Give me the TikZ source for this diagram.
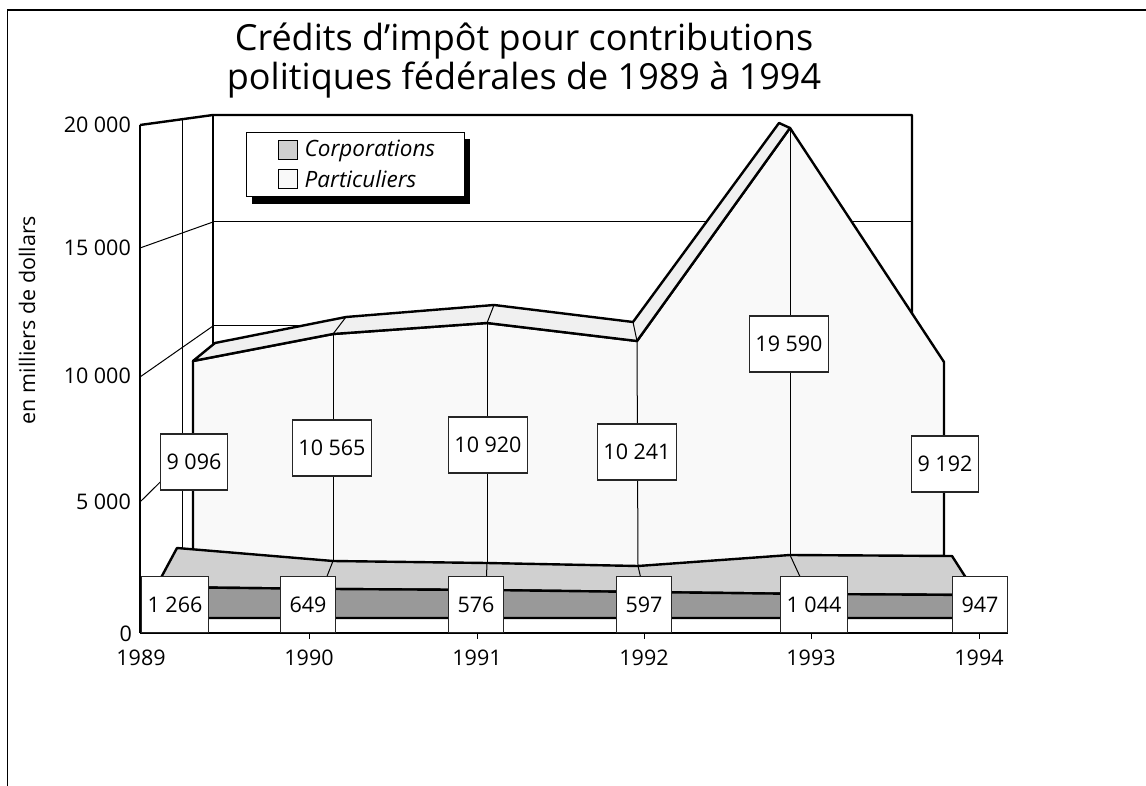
\documentclass[tikz,border=0pt]{standalone}
\usepackage{fontspec}
\setmainfont{Open Sans}
\usetikzlibrary{positioning}

\definecolor{partfront}{HTML}{F9F9F9}
\definecolor{parttop}{HTML}{F0F0F0}
\definecolor{corptop}{HTML}{D0D0D0}
\definecolor{corpfront}{HTML}{999999}

\tikzset{
  edge/.style={line width=2.4pt, line join=round},
  fine/.style={line width=1pt},
  valbox/.style={draw=black!85, line width=1.3pt, fill=white, minimum height=56pt,
    minimum width=55pt, inner xsep=6pt, font=\fontsize{21.5}{26}\selectfont},
  ticklbl/.style={font=\fontsize{21.5}{26}\selectfont, inner sep=0pt},
  swatch/.style={draw, line width=1pt, minimum size=19pt, inner sep=0pt},
  legtxt/.style={font=\fontsize{22.5}{26}\selectfont\itshape, inner sep=0pt}
}

\begin{document}
\begin{tikzpicture}[x=1pt, y=-1pt]
	\useasboundingbox (0,0) rectangle (1146,786);
	
	% --- CADRE ---
	\draw[line width=1pt] (7,786) -- (7,10);
	\draw[line width=1.8pt] (7,10) -- (1146,10);
	
	% --- PAROIS (fond et gauche) ---
	\draw[fine] (213,222) -- (912,222);
	\draw[fine] (213,326) -- (912,326);
	\draw[fine] (140,248) -- (213,222);
	\draw[fine] (140,377) -- (213,326);
	\draw[fine] (140,502) -- (213,430);
	\draw[fine] (182,119) -- (182,548);
	\draw[edge] (140,125) -- (213,115) -- (912,115) -- (912,560);
	\draw[edge] (213,115) -- (213,545);
	
	% --- PARTICULIERS ---
	\fill[partfront] (193,361) -- (333,334) -- (487,323) -- (637,341) -- (790,128) -- (944,362) -- (944,570) -- (193,570) -- cycle;
	\draw[fine] (333,334) -- (333,561);
	\draw[fine] (487,323) -- (487,563);
	\draw[fine] (637,341) -- (638,566);
	\draw[fine] (790,128) -- (790,555);
	\draw[edge] (193,549) -- (193,361) -- (333,334) -- (487,323) -- (637,341) -- (790,128) -- (944,362) -- (944,556);
	% face du dessus
	\filldraw[edge, fill=parttop] (193,361) -- (215,343) -- (346,317) -- (494,305) -- (633,322) -- (779,123) -- (790,128) -- (637,341) -- (487,323) -- (333,334) -- cycle;
	\draw[fine] (333,334) -- (346,317) (487,323) -- (494,305) (637,341) -- (633,322);
	
	% --- CORPORATIONS ---
	\filldraw[edge, fill=corptop] (177,548) -- (333,561) -- (487,563) -- (638,566) -- (790,555) -- (952,556) -- (977,595) -- (811,594) -- (644,592) -- (487,590) -- (333,589) -- (156,587) -- cycle;
	\draw[fine] (333,561) -- (322,589) (487,563) -- (486,590) (638,566) -- (644,592) (790,555) -- (808,594);
	\filldraw[edge, fill=corpfront] (156,587) -- (333,589) -- (487,590) -- (644,592) -- (811,594) -- (977,595) -- (977,618) -- (156,618) -- cycle;
	
	% --- AXES ---
	\draw[edge] (140,125) -- (140,633);
	\draw[line width=1.5pt] (140,633) -- (1008,633);
	\draw[fine] (309,633) -- (309,639);
	\draw[fine] (477,633) -- (477,639);
	\draw[fine] (644,633) -- (644,639);
	\draw[fine] (811,633) -- (811,639);
	\draw[fine] (979,633) -- (979,639);
	
	% Valeurs - Particuliers
	\node[valbox] (valP89) at (194,462) {9 096};
	\node[valbox] (valP90) at (332,448) {10 565};
	\node[valbox] (valP91) at (488,445) {10 920};
	\node[valbox] (valP92) at (637,452) {10 241};
	\node[valbox] (valP93) at (789,344) {19 590};
	\node[valbox] (valP94) at (945,464) {9 192};
	
	% Valeurs - Corporations
	\node[valbox, anchor=south] (valC89) at (175,633) {1 266};
	\node[valbox, anchor=south] (valC90) at (308,633) {649};
	\node[valbox, anchor=south] (valC91) at (476,633) {576};
	\node[valbox, anchor=south] (valC92) at (644,633) {597};
	\node[valbox, anchor=south] (valC93) at (814,633) {1 044};
	\node[valbox, anchor=south] (valC94) at (980,633) {947};
	
	% Graduations
	\node[ticklbl, anchor=east] (y20) at (131,125) {20 000};
	\node[ticklbl, anchor=east] (y15) at (131,248) {15 000};
	\node[ticklbl, anchor=east] (y10) at (131,376) {10 000};
	\node[ticklbl, anchor=east] (y5) at (131,502) {5 000};
	\node[ticklbl, anchor=east] (y0) at (132,634) {0};
	\node[ticklbl, anchor=base] (an89) at (141,665) {1989};
	\node[ticklbl, anchor=base] (an90) at (309,665) {1990};
	\node[ticklbl, anchor=base] (an91) at (477,665) {1991};
	\node[ticklbl, anchor=base] (an92) at (644,665) {1992};
	\node[ticklbl, anchor=base] (an93) at (811,665) {1993};
	\node[ticklbl, anchor=base] (an94) at (979,665) {1994};
	\node[ticklbl, rotate=90] (ytitre) at (27,320) {en milliers de dollars};
	
	% --- LÉGENDE ---
	\fill[black] (252,139) rectangle (470,204);
	\draw[line width=1pt, fill=white] (246,133) rectangle (464,197);
	\node[swatch, fill=corptop] (swC) at (287.5,150.5) {};
	\node[swatch, fill=partfront] (swP) at (287.5,179.5) {};
	\node[legtxt, right=7pt of swC] (legC) {Corporations};
	\node[legtxt, right=7pt of swP] (legP) {Particuliers};
	
	% Titre
	\node[font=\fontsize{36}{39}\selectfont, align=center, inner sep=0pt] (titre) at (524,61) {Crédits d’impôt pour contributions\\politiques fédérales de 1989 à 1994};
	
\end{tikzpicture}
\end{document}
